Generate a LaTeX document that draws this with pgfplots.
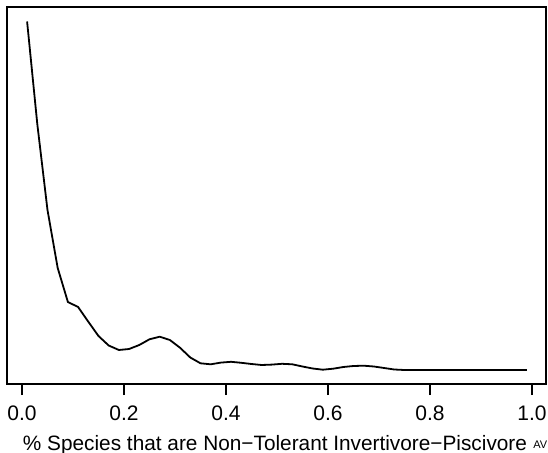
\documentclass[border=0pt]{standalone}
\usepackage{fontspec}
\setmainfont{Liberation Sans}
\usepackage{pgfplots}
\pgfplotsset{compat=1.18}
\begin{document}
\begin{tikzpicture}[x=1bp,y=1bp]
\begin{axis}[at={(7bp,69bp)}, anchor=south west, scale only axis,
  width=539bp, height=377bp,
  xmin=-0.0294, xmax=1.0275, ymin=0, ymax=377,
  axis line style={line width=1.8bp},
  xtick={0,0.2,0.4,0.6,0.8,1.0},
  xticklabels={0.0,0.2,0.4,0.6,0.8,1.0},
  ytick=\empty,
  xtick pos=bottom,
  tick align=outside, major tick length=11bp,
  tick style={black, line width=1.8bp},
  xticklabel style={font=\fontsize{21bp}{24bp}\selectfont, anchor=base, yshift=-25.5bp},
  /pgf/number format/assume math mode=true,
  clip=false,
]
\addplot[black, line width=1.8bp] coordinates {
(0.01,362.5) (0.03,260) (0.05,174) (0.07,116) (0.09,82) (0.11,77)
(0.13,62.3) (0.15,48) (0.17,38.5) (0.19,34) (0.21,35) (0.23,39)
(0.25,44.7) (0.27,47.3) (0.29,44) (0.31,36.2) (0.33,26.5) (0.35,20.7)
(0.37,19.7) (0.39,21.4) (0.41,22.2) (0.43,21.2) (0.45,20) (0.47,19)
(0.49,19.4) (0.51,20.2) (0.53,19.7) (0.55,17.5) (0.57,15.5) (0.59,14.3)
(0.61,15.3) (0.63,17) (0.65,18) (0.67,18.3) (0.69,17.5) (0.71,16)
(0.73,14.5) (0.75,14) (0.77,14) (0.79,14) (0.81,14) (0.83,14)
(0.85,14) (0.87,14) (0.89,14) (0.91,14) (0.93,14) (0.95,14)
(0.97,14) (0.99,14)
};
\end{axis}
\node[anchor=base, inner sep=0pt, font=\fontsize{20.8bp}{24bp}\selectfont] at (275bp,3bp)
  {\% Species that are Non−Tolerant Invertivore−Piscivore};
\node[anchor=north east, inner sep=0pt, font=\fontsize{11bp}{13bp}\selectfont] at (547.5bp,12bp) {AV};
\pgfresetboundingbox
\path (0,0) rectangle (548bp,453bp);
\end{tikzpicture}
\end{document}
